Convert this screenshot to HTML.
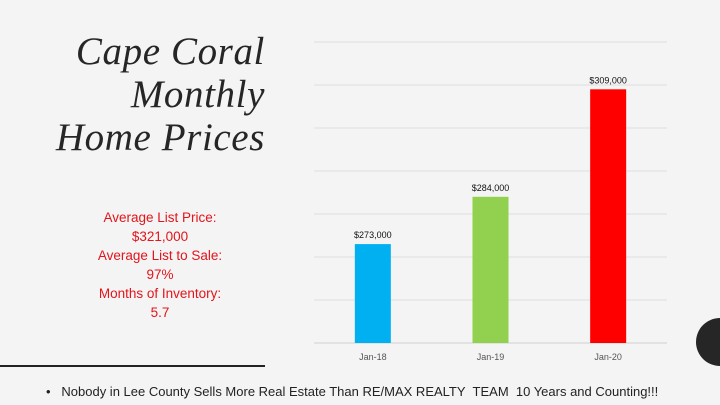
<!DOCTYPE html>
<html><head><meta charset="utf-8"><style>
body{margin:0;width:720px;height:405px;background:#f4f4f4;position:relative;overflow:hidden;font-family:"Liberation Sans",sans-serif}
#title{position:absolute;right:455px;top:30px;text-align:right;font-family:"Liberation Serif",serif;font-style:italic;font-size:39px;letter-spacing:0.6px;line-height:43px;color:#262626;white-space:nowrap}
#stats{position:absolute;left:60px;width:200px;top:208px;text-align:center;color:#e3141b;font-size:13.5px;line-height:19px}
#rule{position:absolute;left:0;top:365px;width:265px;height:2px;background:#222}
#circle{position:absolute;left:696px;top:318px;width:48px;height:48px;border-radius:50%;background:#262626}
#foot{position:absolute;left:46px;top:384px;font-size:13px;color:#222;white-space:nowrap}
svg{position:absolute;left:0;top:0}
</style></head><body>
<div id="title">Cape Coral<br>Monthly<br>Home Prices</div>
<div id="stats">Average List Price:<br>$321,000<br>Average List to Sale:<br>97%<br>Months of Inventory:<br>5.7</div>
<div id="rule"></div>
<div id="circle"></div>
<div id="foot">•&nbsp;&nbsp;&nbsp;Nobody in Lee County Sells More Real Estate Than RE/MAX REALTY &nbsp;TEAM &nbsp;10 Years and Counting!!!</div>
<svg id="chart" width="720" height="405"></svg>
<script>
const categories=["Jan-18","Jan-19","Jan-20"];
const values=[273000,284000,309000];
const labels=["$273,000","$284,000","$309,000"];
const colors=["#00b0f0","#92d050","#ff0000"];
const gridTicks=[250000,260000,270000,280000,290000,300000,310000,320000];
const NS="http://www.w3.org/2000/svg";
const svg=document.getElementById('chart');
const x0=314,x1=667,yBase=343,vMin=250000,pxPer=43/10000;
const y=v=>yBase-(v-vMin)*pxPer;
const band=(x1-x0)/categories.length;
const xc=i=>x0+band*(i+0.5);
function mk(t,a){const e=document.createElementNS(NS,t);for(const k in a)e.setAttribute(k,a[k]);svg.appendChild(e);return e;}
gridTicks.forEach(v=>{
 const l=mk('line',{x1:x0,x2:x1,y1:y(v),y2:y(v),stroke:v===vMin?'#d0d0d0':'#dedede','stroke-width':1});
 
 
});
categories.forEach((c,i)=>{
 const bw=36;
 const r=mk('rect',{x:xc(i)-bw/2,y:y(values[i]),width:bw,height:yBase-y(values[i]),fill:colors[i]});
 
 
 const t=mk('text',{x:xc(i),y:y(values[i])-6,'text-anchor':'middle','font-size':9,fill:'#111','font-family':'Liberation Sans, sans-serif'});
 t.textContent=labels[i];
 
 
 const xl=mk('text',{x:xc(i),y:yBase+17,'text-anchor':'middle','font-size':9,fill:'#555','font-family':'Liberation Sans, sans-serif'});
 xl.textContent=c;
 
 
});
</script>
</body></html>
